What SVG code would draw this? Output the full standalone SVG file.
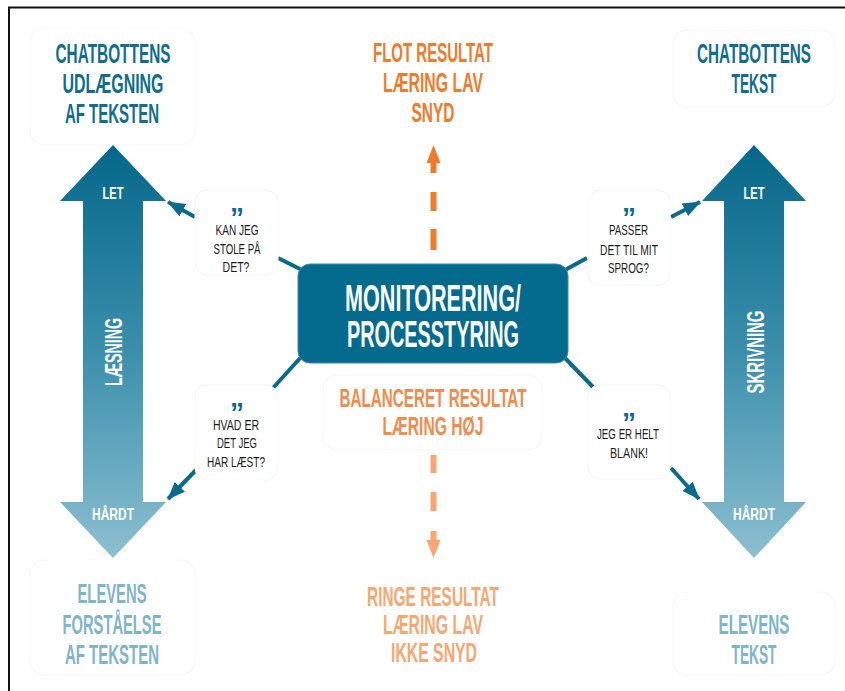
<svg xmlns="http://www.w3.org/2000/svg" width="845" height="691" viewBox="0 0 845 691">
<style>
.t{font-family:"Liberation Sans Narrow","Liberation Sans",Arial,sans-serif;font-weight:bold;text-anchor:middle}
.s{font-family:"Liberation Sans Narrow","Liberation Sans",Arial,sans-serif;font-weight:normal;text-anchor:middle;font-size:14px;fill:#1c1c1c}
.q{font-family:"Liberation Sans",Arial,sans-serif;font-weight:bold;text-anchor:middle;font-size:28px;fill:#0d6a8c}
.box{fill:#ffffff;stroke:#f5f7f8;stroke-width:1}
.dark{fill:#0f6d8d}
.light{fill:#7db5c9}
.leg{stroke:#0a6a8d;stroke-width:4;stroke-linecap:butt}
.con{stroke:#0a6a8d;stroke-width:4;fill:none}
.w{fill:#ffffff}
</style>
<defs>
<linearGradient id="gL" x1="0" y1="145" x2="0" y2="558" gradientUnits="userSpaceOnUse">
<stop offset="0" stop-color="#05678a"/>
<stop offset="0.5" stop-color="#3b8fac"/>
<stop offset="1" stop-color="#8cbfd0"/>
</linearGradient>
<marker id="ah" markerUnits="userSpaceOnUse" markerWidth="18" markerHeight="14" refX="17" refY="7" orient="auto">
<path d="M0,0 L18,7 L0,14 Z" fill="#0a6a8d"/>
</marker>
</defs>
<rect x="0" y="0" width="845" height="691" fill="#ffffff"/>
<path d="M9,691 V7.5 H845" fill="none" stroke="#111111" stroke-width="2"/>

<g id="title-left">
<rect class="box" x="30" y="28" width="165" height="117" rx="14"/>
<text class="t dark" font-size="28" x="113" y="63" textLength="115" lengthAdjust="spacingAndGlyphs">CHATBOTTENS</text>
<text class="t dark" font-size="28" x="113" y="93" textLength="101" lengthAdjust="spacingAndGlyphs">UDLÆGNING</text>
<text class="t dark" font-size="28" x="112" y="123" textLength="94" lengthAdjust="spacingAndGlyphs">AF TEKSTEN</text>
</g>

<g id="title-right">
<rect class="box" x="673" y="30" width="162" height="77" rx="14"/>
<text class="t dark" font-size="28" x="754" y="63" textLength="114" lengthAdjust="spacingAndGlyphs">CHATBOTTENS</text>
<text class="t dark" font-size="28" x="754" y="93" textLength="45" lengthAdjust="spacingAndGlyphs">TEKST</text>
</g>

<g id="bottom-left">
<rect class="box" x="30" y="560" width="165" height="115" rx="14"/>
<text class="t light" font-size="27" x="112" y="603" textLength="69" lengthAdjust="spacingAndGlyphs">ELEVENS</text>
<text class="t light" font-size="27" x="112" y="634" textLength="99" lengthAdjust="spacingAndGlyphs">FORSTÅELSE</text>
<text class="t light" font-size="27" x="112" y="664" textLength="94" lengthAdjust="spacingAndGlyphs">AF TEKSTEN</text>
</g>

<g id="bottom-right">
<rect class="box" x="673" y="592" width="162" height="83" rx="14"/>
<text class="t light" font-size="27" x="754" y="634" textLength="71" lengthAdjust="spacingAndGlyphs">ELEVENS</text>
<text class="t light" font-size="27" x="754" y="664" textLength="45" lengthAdjust="spacingAndGlyphs">TEKST</text>
</g>

<g id="arrow-laesning">
<path d="M113,145 L166,201 L143,201 L143,502 L166,502 L113,558 L60,502 L83,502 L83,201 L60,201 Z" fill="url(#gL)"/>
<text class="t w" font-size="17" x="113" y="199" textLength="21" lengthAdjust="spacingAndGlyphs">LET</text>
<text class="t w" font-size="17" x="113" y="520" textLength="42" lengthAdjust="spacingAndGlyphs">HÅRDT</text>
<text class="t w" font-size="23" transform="translate(122,352) rotate(-90)" x="0" y="0" textLength="68" lengthAdjust="spacingAndGlyphs">LÆSNING</text>
</g>

<g id="arrow-skrivning">
<path d="M754,145 L806,201 L784,201 L784,502 L806,502 L754,558 L702,502 L724,502 L724,201 L702,201 Z" fill="url(#gL)"/>
<text class="t w" font-size="17" x="754" y="199" textLength="21" lengthAdjust="spacingAndGlyphs">LET</text>
<text class="t w" font-size="17" x="754" y="520" textLength="42" lengthAdjust="spacingAndGlyphs">HÅRDT</text>
<text class="t w" font-size="24" transform="translate(764,352) rotate(-90)" x="0" y="0" textLength="83" lengthAdjust="spacingAndGlyphs">SKRIVNING</text>
</g>

<g id="flot">
<text class="t" fill="#f07b2a" font-size="28" x="433" y="62" textLength="120" lengthAdjust="spacingAndGlyphs">FLOT RESULTAT</text>
<text class="t" fill="#f07b2a" font-size="28" x="433" y="92" textLength="100" lengthAdjust="spacingAndGlyphs">LÆRING LAV</text>
<text class="t" fill="#f07b2a" font-size="28" x="433" y="122" textLength="43" lengthAdjust="spacingAndGlyphs">SNYD</text>
</g>

<g id="balanced">
<rect class="box" x="323" y="375" width="219" height="75" rx="14"/>
<text class="t" fill="#f28b4b" font-size="26" x="433" y="407" textLength="187" lengthAdjust="spacingAndGlyphs">BALANCERET RESULTAT</text>
<text class="t" fill="#f28b4b" font-size="26" x="433" y="435" textLength="101" lengthAdjust="spacingAndGlyphs">LÆRING HØJ</text>
</g>

<g id="ringe">
<text class="t" fill="#f8a772" font-size="28" x="433" y="606" textLength="132" lengthAdjust="spacingAndGlyphs">RINGE RESULTAT</text>
<text class="t" fill="#f8a772" font-size="28" x="433" y="634" textLength="100" lengthAdjust="spacingAndGlyphs">LÆRING LAV</text>
<text class="t" fill="#f8a772" font-size="28" x="434" y="662" textLength="86" lengthAdjust="spacingAndGlyphs">IKKE SNYD</text>
</g>

<g id="connectors">
<line class="leg" x1="278" y1="258" x2="302" y2="270"/>
<line class="leg" x1="587" y1="258" x2="565" y2="270"/>
<line class="leg" x1="273" y1="388" x2="302" y2="356"/>
<line class="leg" x1="593" y1="387" x2="563" y2="356"/>
<line class="con" x1="195" y1="217" x2="168" y2="202" marker-end="url(#ah)"/>
<line class="con" x1="196" y1="470" x2="168" y2="499" marker-end="url(#ah)"/>
<line class="con" x1="671" y1="217" x2="700" y2="202" marker-end="url(#ah)"/>
<line class="con" x1="671" y1="468" x2="699" y2="499" marker-end="url(#ah)"/>
<g stroke="#f07b2a" stroke-width="6">
<line x1="433.5" y1="229" x2="433.5" y2="250"/>
<line x1="433.5" y1="192" x2="433.5" y2="211"/>
<line x1="433.5" y1="160" x2="433.5" y2="173"/>
</g>
<path d="M433.5,145 L440.5,163 L426.5,163 Z" fill="#f07b2a"/>
<g stroke="#f8a772" stroke-width="6">
<line x1="433.5" y1="455" x2="433.5" y2="473"/>
<line x1="433.5" y1="492" x2="433.5" y2="511"/>
<line x1="433.5" y1="531" x2="433.5" y2="543"/>
</g>
<path d="M433.5,558 L440.5,540 L426.5,540 Z" fill="#f8a772"/>
</g>

<g id="center">
<rect x="298" y="264" width="270" height="99" rx="12" fill="#046b8e" stroke="#3f8aa8" stroke-width="1"/>
<text class="t w" font-size="36" x="433" y="311" textLength="176" lengthAdjust="spacingAndGlyphs">MONITORERING/</text>
<text class="t w" font-size="36" x="433" y="347" textLength="172" lengthAdjust="spacingAndGlyphs">PROCESSTYRING</text>
</g>

<g id="speech-1">
<rect class="box" x="195" y="190" width="83" height="85" rx="12"/>
<text class="q" x="237" y="227">”</text>
<text class="s" x="237" y="235" textLength="43" lengthAdjust="spacingAndGlyphs">KAN JEG</text>
<text class="s" x="237" y="254" textLength="47" lengthAdjust="spacingAndGlyphs">STOLE PÅ</text>
<text class="s" x="236" y="272" textLength="27" lengthAdjust="spacingAndGlyphs">DET?</text>
</g>

<g id="speech-2">
<rect class="box" x="195" y="385" width="83" height="95" rx="12"/>
<text class="q" x="237" y="422">”</text>
<text class="s" x="236" y="430" textLength="46" lengthAdjust="spacingAndGlyphs">HVAD ER</text>
<text class="s" x="237" y="448" textLength="40" lengthAdjust="spacingAndGlyphs">DET JEG</text>
<text class="s" x="236" y="467" textLength="58" lengthAdjust="spacingAndGlyphs">HAR LÆST?</text>
</g>

<g id="speech-3">
<rect class="box" x="588" y="190" width="82" height="95" rx="12"/>
<text class="q" x="629" y="227">”</text>
<text class="s" x="628.5" y="235" textLength="39" lengthAdjust="spacingAndGlyphs">PASSER</text>
<text class="s" x="629" y="255" textLength="58" lengthAdjust="spacingAndGlyphs">DET TIL MIT</text>
<text class="s" x="628.5" y="273" textLength="41" lengthAdjust="spacingAndGlyphs">SPROG?</text>
</g>

<g id="speech-4">
<rect class="box" x="588" y="385" width="82" height="94" rx="12"/>
<text class="q" x="629" y="432">”</text>
<text class="s" x="628" y="439" textLength="62" lengthAdjust="spacingAndGlyphs">JEG ER HELT</text>
<text class="s" x="629" y="458" textLength="38" lengthAdjust="spacingAndGlyphs">BLANK!</text>
</g>
</svg>
